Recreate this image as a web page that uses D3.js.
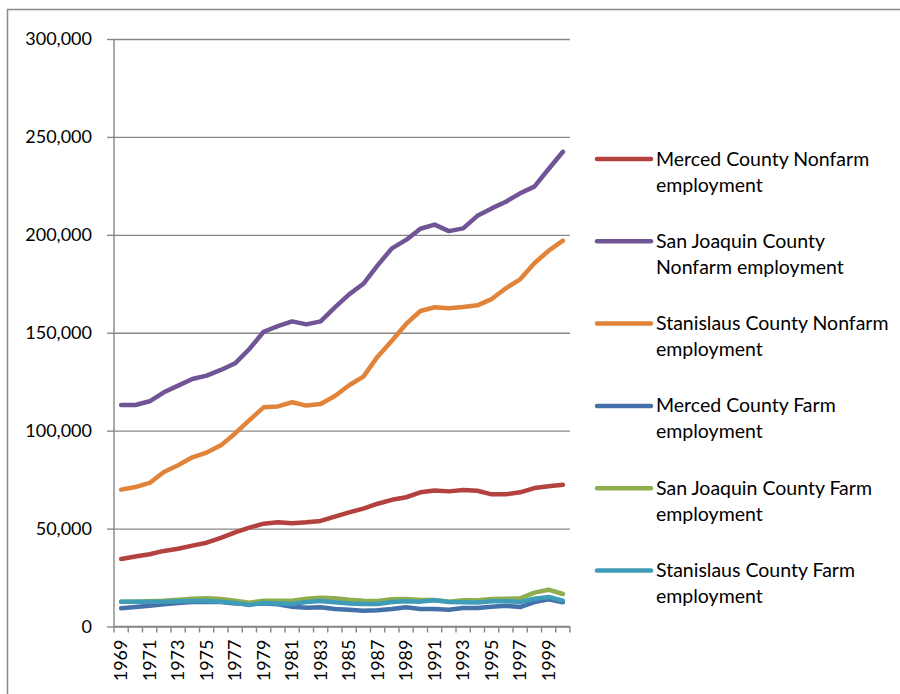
<!DOCTYPE html>
<html>
<head>
<meta charset="utf-8">
<script src="https://cdn.jsdelivr.net/npm/d3@7"></script>
<style>
  html, body { margin: 0; padding: 0; background: #fff; }
  svg { display: block; }
  text { font-family: Lato, "Noto Sans", sans-serif; fill: #000; }
</style>
</head>
<body>
<svg id="chart" width="900" height="694"></svg>
<script>
// Employment by county, 1969–2000
const years = d3.range(1969, 2001);
const yTicks = [0, 50000, 100000, 150000, 200000, 250000, 300000];

const mercedNonfarm = [34500, 35700, 36900, 38600, 39700, 41300, 42800, 45300, 48100, 50500,
  52500, 53200, 52700, 53200, 53900, 56100, 58300, 60200, 62700, 64700,
  66000, 68500, 69500, 69000, 69700, 69300, 67500, 67500, 68500, 70700, 71600, 72400];
const sanJoaquinNonfarm = [113100, 113100, 115000, 119600, 123000, 126400, 128100, 131000, 134400, 141700,
  150500, 153400, 155800, 154300, 155800, 163000, 169600, 175000, 184400, 193100,
  197400, 203100, 205200, 201900, 203300, 209700, 213500, 216900, 221200, 224600, 233600, 242400];
const stanislausNonfarm = [69900, 71200, 73300, 78900, 82300, 86400, 88800, 92500, 98600, 105400,
  111900, 112400, 114500, 112800, 113600, 117700, 123200, 127600, 137800, 145900,
  154500, 161100, 163000, 162500, 163100, 164000, 167200, 172700, 177300, 185500, 191900, 197000];
const mercedFarm = [9300, 9900, 10600, 11300, 12000, 12500, 12700, 12500, 11800, 11500,
  11700, 11300, 10100, 9600, 9800, 8900, 8600, 8100, 8300, 8900,
  9800, 8900, 8900, 8600, 9400, 9400, 10100, 10600, 9900, 12500, 13900, 12400];
const sanJoaquinFarm = [12700, 12700, 12900, 13200, 13700, 14200, 14400, 14000, 13200, 12200,
  13200, 13200, 13200, 14200, 14700, 14400, 13700, 13200, 13000, 13900,
  14000, 13500, 13500, 12700, 13400, 13400, 14000, 14200, 14400, 17300, 18800, 16600];
const stanislausFarm = [12700, 12700, 12700, 12700, 12900, 13000, 13000, 12700, 12000, 11000,
  12000, 11800, 11500, 12500, 13000, 12400, 11800, 11500, 11500, 12500,
  12900, 12700, 13400, 12500, 12400, 12200, 12900, 12900, 12500, 14200, 15100, 13200];

const seriesNames = [
  "Merced County Nonfarm employment",
  "San Joaquin County Nonfarm employment",
  "Stanislaus County Nonfarm employment",
  "Merced County Farm employment",
  "San Joaquin County Farm employment",
  "Stanislaus County Farm employment"
];
// legend text split into the two lines it wraps to
const legendLines = [
  ["Merced County Nonfarm", "employment"],
  ["San Joaquin County", "Nonfarm employment"],
  ["Stanislaus County Nonfarm", "employment"],
  ["Merced County Farm", "employment"],
  ["San Joaquin County Farm", "employment"],
  ["Stanislaus County Farm", "employment"]
];
const seriesValues = [mercedNonfarm, sanJoaquinNonfarm, stanislausNonfarm, mercedFarm, sanJoaquinFarm, stanislausFarm];
const seriesColors = ["#B3423F", "#705496", "#E2833A", "#4571AA", "#8EAD4F", "#3E9CB8"];

const svg = d3.select("#chart");

// outer chart frame (runs off the right and bottom edges)
svg.append("rect")
  .attr("x", 7.5).attr("y", 9.5)
  .attr("width", 920).attr("height", 720)
  .attr("fill", "none").attr("stroke", "#8a8a8a").attr("stroke-width", 1.5);

const plot = { left: 114, right: 570, top: 39, bottom: 626.5 };

const x = d3.scaleBand().domain(years).range([plot.left, plot.right]).paddingInner(0).paddingOuter(0);
const y = d3.scaleLinear().domain([0, 300000]).range([plot.bottom, plot.top]);

const gridColor = "#878787";

// horizontal gridlines with left ticks and labels
const yAxis = svg.append("g")
  .attr("transform", `translate(${plot.left},0)`)
  .call(d3.axisLeft(y).tickValues(yTicks).tickFormat(d3.format(",")).tickSize(7).tickPadding(15));
yAxis.select(".domain").remove();
yAxis.selectAll(".tick line").attr("stroke", gridColor).attr("stroke-width", 1.4);
yAxis.selectAll(".tick text").attr("font-size", 18).attr("font-family", "Lato, sans-serif").attr("fill", "#000");
yAxis.selectAll(".tick").append("line")
  .attr("x1", 0).attr("x2", plot.right - plot.left)
  .attr("stroke", gridColor).attr("stroke-width", 1.4);

// vertical axis line
svg.append("line")
  .attr("x1", plot.left).attr("x2", plot.left)
  .attr("y1", plot.top).attr("y2", plot.bottom)
  .attr("stroke", gridColor).attr("stroke-width", 1.4);

// category axis: ticks at category boundaries
const boundaries = years.map(d => x(d)).concat([x(years[years.length - 1]) + x.bandwidth()]);
svg.append("g").selectAll("line").data(boundaries).join("line")
  .attr("x1", d => d).attr("x2", d => d)
  .attr("y1", plot.bottom).attr("y2", plot.bottom + 6)
  .attr("stroke", gridColor).attr("stroke-width", 1.4);
svg.append("line")
  .attr("x1", plot.left).attr("x2", plot.right)
  .attr("y1", plot.bottom).attr("y2", plot.bottom)
  .attr("stroke", gridColor).attr("stroke-width", 1.4);

// rotated year labels, every other year
svg.append("g").selectAll("text")
  .data(years.filter((d, i) => i % 2 === 0))
  .join("text")
  .attr("transform", d => `translate(${x(d) + x.bandwidth() / 2 + 6},${plot.bottom + 13}) rotate(-90)`)
  .attr("text-anchor", "end")
  .attr("font-size", 18)
  .text(d => d);

// series lines
const line = d3.line()
  .x((d, i) => x(years[i]) + x.bandwidth() / 2)
  .y(d => y(d));

svg.append("g").selectAll("path")
  .data(seriesValues)
  .join("path")
  .attr("d", d => line(d))
  .attr("fill", "none")
  .attr("stroke", (d, i) => seriesColors[i])
  .attr("stroke-width", 4.5)
  .attr("stroke-linejoin", "round")
  .attr("stroke-linecap", "round");

// legend
const legend = svg.append("g");
const legendY = d3.scalePoint().domain(seriesNames).range([159, 570.5]);
const entries = legend.selectAll("g").data(seriesNames).join("g")
  .attr("transform", d => `translate(0,${legendY(d)})`);
entries.append("line")
  .attr("x1", 597).attr("x2", 651)
  .attr("stroke", (d, i) => seriesColors[i])
  .attr("stroke-width", 4.5)
  .attr("stroke-linecap", "round");
entries.each(function (d, i) {
  const t = d3.select(this).append("text").attr("x", 656).attr("font-size", 19.5);
  legendLines[i].forEach((s, j) => {
    t.append("tspan").attr("x", 656).attr("y", 6.5 + j * 26).text(s);
  });
});
</script>
</body>
</html>
